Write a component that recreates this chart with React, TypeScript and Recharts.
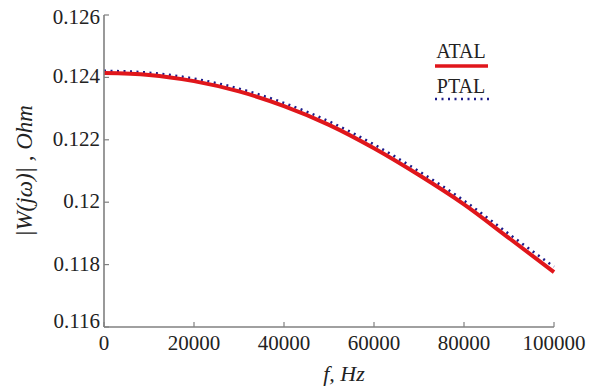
import React from 'react';
import { LineChart, Line, XAxis, YAxis } from 'recharts';

const freq = [0, 10000, 20000, 30000, 40000, 50000, 60000, 70000, 80000, 90000, 100000];
const atal = [0.12414, 0.12408, 0.12388, 0.12355, 0.12308, 0.12248, 0.12173, 0.12087, 0.11993, 0.11885, 0.11776];
const ptal = [0.12421, 0.12415, 0.12396, 0.12364, 0.12318, 0.12259, 0.12185, 0.12099, 0.12005, 0.11898, 0.11793];

const xTicks = [0, 20000, 40000, 60000, 80000, 100000];
const xTickLabels = ['0', '20000', '40000', '60000', '80000', '100000'];
const yTicks = [0.116, 0.118, 0.12, 0.122, 0.124, 0.126];
const yTickLabels = ['0.116', '0.118', '0.12', '0.122', '0.124', '0.126'];

const seriesNames = ['ATAL', 'PTAL'];
const xLabel = 'f, Hz';
const yLabel = '|W(jω)| , Ohm';

const data = freq.map((f, i) => ({ f, atal: atal[i], ptal: ptal[i] }));

const FRAME = '#808080';
const FONT = '"Liberation Serif", "Times New Roman", serif';
const RED = '#e0161b';
const NAVY = '#1c1c8a';

const XTick = (props: any) => {
  const { x, y, index } = props;
  return (
    <g>
      <line x1={x} x2={x} y1={y} y2={y - 5} stroke={FRAME} strokeWidth={1.2} />
      <text x={x} y={y + 23} textAnchor="middle" fontFamily={FONT} fontSize={21} fill="#222">
        {xTickLabels[index]}
      </text>
    </g>
  );
};

const TopTick = (props: any) => {
  const { x, y } = props;
  return <line x1={x} x2={x} y1={y} y2={y + 5} stroke={FRAME} strokeWidth={1.2} />;
};

const YTick = (props: any) => {
  const { x, y, index } = props;
  const off = index === 0 ? 1 : index === yTicks.length - 1 ? 9 : 6;
  return (
    <g>
      <line x1={x} x2={x + 5} y1={y} y2={y} stroke={FRAME} strokeWidth={1.2} />
      <text x={x - 4} y={y + off} textAnchor="end" fontFamily={FONT} fontSize={21} fill="#222">
        {yTickLabels[index]}
      </text>
    </g>
  );
};

const RightTick = (props: any) => {
  const { x, y } = props;
  return <line x1={x} x2={x - 5} y1={y} y2={y} stroke={FRAME} strokeWidth={1.2} />;
};

export default function App() {
  return (
    <div style={{ position: 'absolute', left: 0, top: 0, width: 595, height: 387, background: '#fff' }}>
      <LineChart width={595} height={387} data={data} margin={{ top: 15, right: 41, bottom: 0, left: 0 }}>
        <XAxis
          dataKey="f"
          type="number"
          domain={[0, 100000]}
          ticks={xTicks}
          interval={0}
          height={60}
          tickSize={0}
          tickMargin={0}
          tickLine={false}
          axisLine={{ stroke: FRAME, strokeWidth: 1.6 }}
          tick={<XTick />}
        />
        <XAxis
          xAxisId="top"
          orientation="top"
          dataKey="f"
          type="number"
          domain={[0, 100000]}
          ticks={xTicks}
          interval={0}
          height={0}
          tickSize={0}
          tickMargin={0}
          tickLine={false}
          axisLine={{ stroke: FRAME, strokeWidth: 1.6 }}
          tick={<TopTick />}
        />
        <YAxis
          type="number"
          domain={[0.116, 0.126]}
          ticks={yTicks}
          interval={0}
          width={104}
          tickSize={0}
          tickMargin={0}
          tickLine={false}
          axisLine={{ stroke: FRAME, strokeWidth: 1.6 }}
          tick={<YTick />}
        />
        <YAxis
          yAxisId="right"
          orientation="right"
          type="number"
          domain={[0.116, 0.126]}
          ticks={yTicks}
          interval={0}
          width={0}
          tickSize={0}
          tickMargin={0}
          tickLine={false}
          axisLine={{ stroke: FRAME, strokeWidth: 1.6 }}
          tick={<RightTick />}
        />
        <Line
          type="monotone"
          dataKey="ptal"
          name={seriesNames[1]}
          stroke={NAVY}
          strokeWidth={2.6}
          strokeDasharray="2 4.5"
          dot={false}
          isAnimationActive={false}
        />
        <Line
          type="monotone"
          dataKey="atal"
          name={seriesNames[0]}
          stroke={RED}
          strokeWidth={4}
          dot={false}
          isAnimationActive={false}
        />
      </LineChart>
      <svg
        width={595}
        height={387}
        style={{ position: 'absolute', left: 0, top: 0, pointerEvents: 'none' }}
      >
        <text x={344} y={381} textAnchor="middle" fontFamily={FONT} fontStyle="italic" fontSize={22} fill="#222">
          {xLabel}
        </text>
        <text
          x={32}
          y={171}
          transform="rotate(-90 32 171)"
          textAnchor="middle"
          fontFamily={FONT}
          fontStyle="italic"
          fontSize={23}
          fill="#222"
        >
          {yLabel}
        </text>
        <text x={461} y={58} textAnchor="middle" fontFamily={FONT} fontSize={20} fill="#222">
          {seriesNames[0]}
        </text>
        <line x1={435} x2={488} y1={66} y2={66} stroke={RED} strokeWidth={3.5} />
        <text x={461} y={93} textAnchor="middle" fontFamily={FONT} fontSize={20} fill="#222">
          {seriesNames[1]}
        </text>
        <line x1={435} x2={490} y1={99} y2={99} stroke={NAVY} strokeWidth={2.6} strokeDasharray="2 4.5" />
      </svg>
    </div>
  );
}
